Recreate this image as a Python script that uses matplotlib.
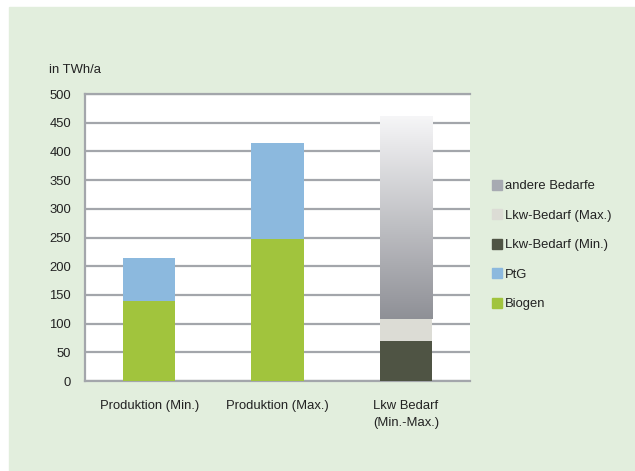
import numpy as np
import matplotlib.pyplot as plt
from matplotlib.patches import Rectangle, Patch

plt.rcParams['font.family'] = ['Liberation Sans', 'DejaVu Sans']

categories = ["Produktion (Min.)", "Produktion (Max.)", "Lkw Bedarf\n(Min.-Max.)"]
biogen = [140, 248, 0]
ptg = [74, 166, 0]
lkw_min = [0, 0, 70]
lkw_max = [0, 0, 38]
andere = [0, 0, 352]

C_BIO = "#a1c43d"
C_PTG = "#8cb9de"
C_MIN = "#4f5444"
C_MAX = "#dcdcd5"
C_AND = "#a7aab2"
BG = "#e2eedd"
GRID = "#a3a6ab"
FS = 9.4

fig = plt.figure(figsize=(6.35, 4.71), dpi=100)
fig.patches.append(Rectangle((9 / 635, 0), 1, 1 - 7 / 471,
                             transform=fig.transFigure, color=BG, zorder=-10))

ax = fig.add_axes([85 / 635, 1 - 381 / 471, 385 / 635, 287 / 471])
ax.set_facecolor("white")

x = np.arange(len(categories))
w = 0.41
bottom = np.zeros(len(categories))
for vals, col in [(biogen, C_BIO), (ptg, C_PTG), (lkw_min, C_MIN), (lkw_max, C_MAX)]:
    ax.bar(x, vals, w, bottom=bottom, color=col, zorder=3)
    bottom += np.array(vals)

# gradient fill for the "andere Bedarfe" segment
grad = np.linspace(0, 1, 256).reshape(-1, 1)
top_c = np.array([0.965, 0.965, 0.97])
bot_c = np.array([0.56, 0.565, 0.59])
img = bot_c + (top_c - bot_c) * grad
for i, v in enumerate(andere):
    if v:
        ax.imshow(img[:, None, :].repeat(2, axis=1), origin="lower", aspect="auto",
                  extent=[x[i] - w / 2, x[i] + w / 2, bottom[i], bottom[i] + v],
                  zorder=3, interpolation="bilinear")

ax.set_xlim(-0.5, 2.5)
ax.set_ylim(0, 500)
ax.set_yticks(range(0, 501, 50))
ax.set_xticks(x)
ax.set_xticklabels(categories, fontsize=FS, color="#222222", linespacing=1.55)
ax.tick_params(axis="both", length=0, labelsize=FS, colors="#222222")
ax.tick_params(axis="x", pad=14)
ax.tick_params(axis="y", pad=10)
ax.yaxis.grid(True, color=GRID, linewidth=1.6, zorder=0)
ax.set_axisbelow(True)
ax.spines["right"].set_visible(False)
for s in ["left", "bottom", "top"]:
    ax.spines[s].set_color(GRID)
    ax.spines[s].set_linewidth(1.6)

fig.text(49 / 635, 1 - 70 / 471, "in TWh/a", fontsize=FS, color="#222222", va="center")

handles = [Patch(color=C_AND, label="andere Bedarfe"),
           Patch(color=C_MAX, label="Lkw-Bedarf (Max.)"),
           Patch(color=C_MIN, label="Lkw-Bedarf (Min.)"),
           Patch(color=C_PTG, label="PtG"),
           Patch(color=C_BIO, label="Biogen")]
fig.legend(handles=handles, loc="center left", bbox_to_anchor=(480 / 635, 1 - 245 / 471),
           frameon=False, fontsize=FS, handlelength=0.8, handleheight=0.8,
           handletextpad=0.2, labelspacing=1.3, labelcolor="#222222")

fig.savefig("out.png", dpi=100, facecolor="white")
